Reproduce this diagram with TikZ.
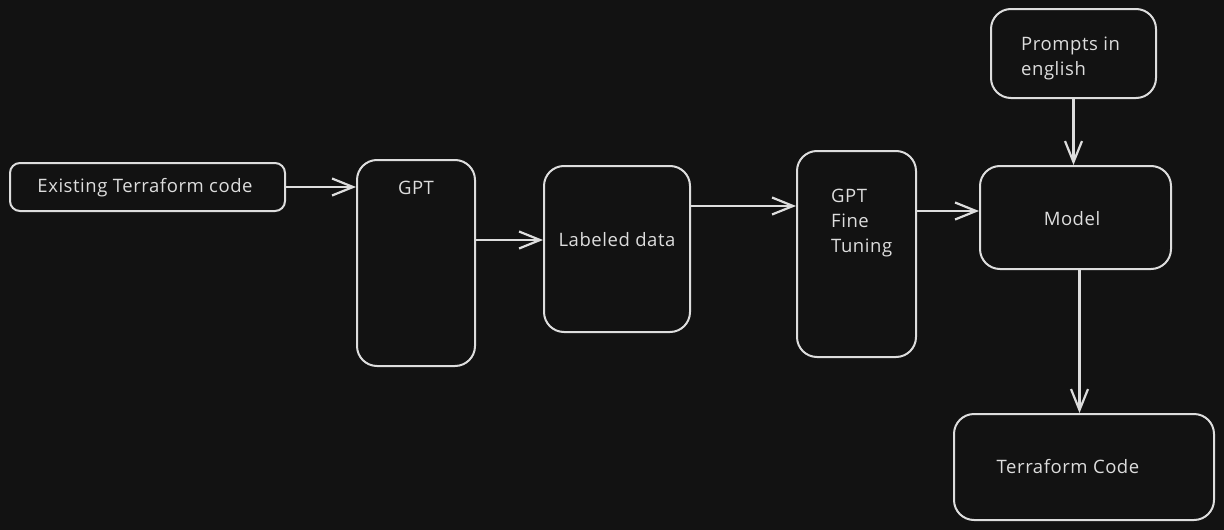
\documentclass[tikz,border=0pt]{standalone}
\usepackage{fontspec}
\setmainfont[LetterSpace=3]{Open Sans}
\usetikzlibrary{arrows.meta}
\definecolor{bg}{HTML}{121212}
\definecolor{ink}{HTML}{DDDDDD}
\begin{document}
\begin{tikzpicture}[x=1pt, y=-1pt]
      \tikzstyle{box}=[draw=ink, fill=bg, line width=2pt, rounded corners=20pt, inner sep=0pt, text=ink, font=\fontsize{18.5}{25}\selectfont]
      \tikzstyle{txt}=[text=ink, font=\fontsize{18.5}{25}\selectfont, inner sep=0pt, align=left]
      \tikzstyle{conn}=[draw=ink, line width=2.2pt, -{Straight Barb[length=21pt, width=17pt, line width=2.2pt]}]

      \fill[bg] (0,0) rectangle (1224,530);
      \useasboundingbox (0,0) rectangle (1224,530);

      \path (147.5,187) node[box, rounded corners=10pt, minimum width=275pt, minimum height=48pt] (code) {};
      \path (416,263) node[box, minimum width=118pt, minimum height=206pt] (gpt) {};
      \path (617,249) node[box, minimum width=146pt, minimum height=166pt] (lab) {};
      \path (856.5,254) node[box, minimum width=119pt, minimum height=206pt] (fine) {};
      \path (1073.5,53.5) node[box, minimum width=165pt, minimum height=89pt] (prompt) {};
      \path (1075.5,217.5) node[box, minimum width=191pt, minimum height=103pt] (model) {};
      \path (1084,467) node[box, minimum width=260pt, minimum height=106pt] (out) {};

      \path (145,188) node[txt] (code-t) {Existing Terraform code};
      \path (416,188) node[txt] (gpt-t) {GPT};
      \path (617,240) node[txt] (lab-t) {Labeled data};
      \path (831,223) node[txt, anchor=west] (fine-t) {GPT\\Fine\\Tuning};
      \path (1021,58) node[txt, anchor=west] (prompt-t) {Prompts in\\english};
      \path (1072,219) node[txt] (model-t) {Model};
      \path (1068,467) node[txt] (out-t) {Terraform Code};

      \draw[conn] (code.east) -- (code.east -| gpt.west);
      \draw[conn] (gpt.east |- lab-t) -- (lab.west |- lab-t);
      \draw[conn] ([yshift=43pt]lab.east) -- ([yshift=43pt]lab.east -| fine.west);
      \draw[conn] ([yshift=43pt]fine.east) -- ([yshift=43pt]fine.east -| model.west);
      \draw[conn] (prompt.south) -- (prompt.south |- model.north);
      \draw[conn] ([xshift=4pt]model.south) -- ([xshift=4pt]model.south |- out.north);
\end{tikzpicture}
\end{document}
